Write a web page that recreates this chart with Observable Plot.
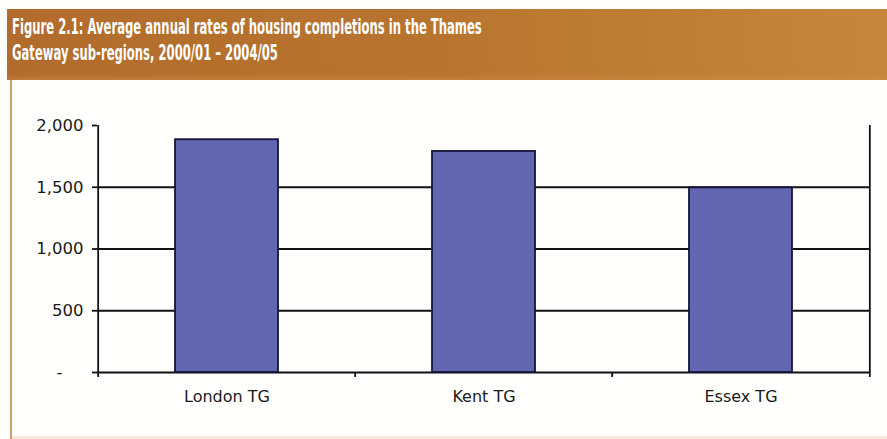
<!DOCTYPE html>
<html>
<head>
<meta charset="utf-8">
<script src="https://cdn.jsdelivr.net/npm/d3@7"></script>
<script src="https://cdn.jsdelivr.net/npm/@observablehq/plot@0.6"></script>
<style>
  html, body { margin: 0; padding: 0; background: #ffffff; }
  #page { position: relative; width: 887px; height: 439px; overflow: hidden; background: #fffffd; }
  #header {
    position: absolute; left: 7px; top: 9px; width: 880px; height: 71px;
    background: linear-gradient(to right, #b26b2c 0%, #b8752f 50%, #c6873b 100%);
    box-shadow: inset 0 -6px 6px -4px rgba(220,150,80,0.5);
  }
  #title {
    position: absolute; left: 12px; top: 15px;
    color: #ffffff; font-family: "DejaVu Sans Condensed", "Liberation Sans", sans-serif;
    font-weight: bold; font-size: 20.5px; line-height: 25.5px;
    white-space: nowrap;
    transform: scaleX(0.63); transform-origin: 0 0;
  }
  #leftborder { position: absolute; left: 10px; top: 80px; width: 2px; height: 359px; background: #c9a166; }
  #bottomline { position: absolute; left: 12px; top: 436px; width: 875px; height: 3px; background: #fde9da; }
  #chart { position: absolute; left: 0; top: 80px; }
</style>
</head>
<body>
<div id="page">
  <div id="header"></div>
  <div id="title">Figure 2.1: Average annual rates of housing completions in the Thames<br>Gateway sub-regions, 2000/01 – 2004/05</div>
  <div id="leftborder"></div>
  <div id="bottomline"></div>
  <div id="chart"></div>
</div>
<script>
const categories = ["London TG", "Kent TG", "Essex TG"];
const values = [1885, 1790, 1495];
const yTicks = [0, 500, 1000, 1500, 2000];
const gridValues = [500, 1000, 1500];

const data = categories.map((c, i) => ({category: c, value: values[i]}));

const W = 887, H = 359;
const mL = 97, mR = 17, mT = 45, mB = 67;
const step = (W - mL - mR) / categories.length;
const below = -40; // extends axis lines slightly below zero

const fmt = d => d === 0 ? "-\u00a0\u00a0\u00a0\u00a0" : d3.format(",")(d);

const chart = Plot.plot({
  width: W,
  height: H,
  marginLeft: mL,
  marginRight: mR,
  marginTop: mT,
  marginBottom: mB,
  style: {background: "transparent", fontFamily: "DejaVu Sans, Verdana, sans-serif", color: "#1a1a1a", overflow: "visible"},
  x: {type: "band", domain: categories, paddingInner: 0.6, paddingOuter: 0.3, label: null},
  y: {domain: [0, 2000], label: null},
  marks: [
    Plot.ruleY(gridValues, {stroke: "#111", strokeWidth: 1.8}),
    Plot.ruleY([0], {stroke: "#111", strokeWidth: 1.8}),
    Plot.ruleX([categories[0]], {x: d => d, dx: -step / 2, y1: 2000, y2: below, stroke: "#111", strokeWidth: 1.8}),
    Plot.ruleX([categories[categories.length - 1]], {x: d => d, dx: step / 2, y1: 2000, y2: below, stroke: "#111", strokeWidth: 1.8}),
    Plot.ruleX(categories.slice(1), {x: d => d, dx: -step / 2, y1: 0, y2: below, stroke: "#111", strokeWidth: 1.8}),
    Plot.barY(data, {x: "category", y: "value", fill: "#6366b1", stroke: "#15153a", strokeWidth: 1.8}),
    Plot.axisY({ticks: yTicks, tickSize: 5, tickPadding: 9, tickFormat: fmt, fontSize: 16.5, stroke: "#111", strokeWidth: 1.8, strokeOpacity: 1, fill: "#1a1a1a"}),
    Plot.axisX({tickSize: 0, tickPadding: 18, fontSize: 16, fill: "#1a1a1a"})
  ]
});
document.getElementById("chart").appendChild(chart);
</script>
</body>
</html>
